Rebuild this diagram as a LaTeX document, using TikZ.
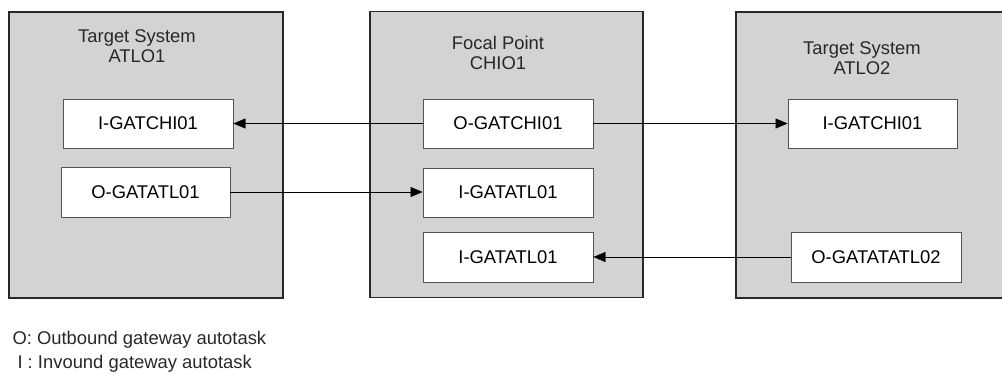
\documentclass[tikz,border=0pt]{standalone}
\usepackage{fontspec}
\setmainfont{Liberation Sans}
\usetikzlibrary{arrows.meta}
\definecolor{sysgray}{RGB}{211,211,213}
\definecolor{inkgray}{RGB}{40,40,40}
\tikzset{
  sysbox/.style={draw=inkgray, line width=1.2pt, fill=sysgray, minimum width=274pt, minimum height=286pt, inner sep=0pt},
  taskbox/.style={draw=inkgray!80, line width=0.9pt, fill=white, minimum width=170pt, minimum height=49pt, inner sep=0pt},
  sysname/.style={align=center, text=inkgray},
}
\begin{document}
\begin{tikzpicture}[x=1pt, y=-1pt, >={Triangle[length=12pt,width=10pt]},
  every node/.style={font=\fontsize{18.4}{20.5}\selectfont}]
	\useasboundingbox (0,0) rectangle (1002,373);
	\node (ATLO1) [sysbox] at (146,155) {};
	\node (CHIO1) [sysbox, minimum width=273pt] at (506.5,154.5) {};
	\node (ATLO2) [sysbox, minimum width=280pt] at (876,155) {};
	\node [sysname] at (137,46) {Target System\\ATLO1};
	\node [sysname] at (498,53) {Focal Point\\CHIO1};
	\node [sysname] at (862,58) {Target System\\ATLO2};
	\node (I1) [taskbox] at (148,123.5) {I-GATCHI01};
	\node (O1) [taskbox, minimum width=169pt, minimum height=50pt] at (145.5,192) {O-GATATL01};
	\node (OC) [taskbox] at (508,123.5) {O-GATCHI01};
	\node (IC1) [taskbox] at (508,192.5) {I-GATATL01};
	\node (IC2) [taskbox, minimum height=50pt] at (508,257) {I-GATATL01};
	\node (I2) [taskbox, minimum width=169pt] at (872.5,123.5) {I-GATCHI01};
	\node (O2) [taskbox, minimum height=50pt] at (876,257) {O-GATATATL02};
	\draw[->] (OC) to (I1);
	\draw[->] (OC) to (I2);
	\draw[->] (O1.east) to (O1.east -| IC1.west);
	\draw[->] (O2) to (IC2);
	\node (legend) [anchor=west, align=left, text=inkgray,
	  font=\fontsize{18.4}{24}\selectfont] at (9,352)
	  {O: Outbound gateway autotask\\\hspace{5pt}I : Invound gateway autotask};
\end{tikzpicture}
\end{document}
